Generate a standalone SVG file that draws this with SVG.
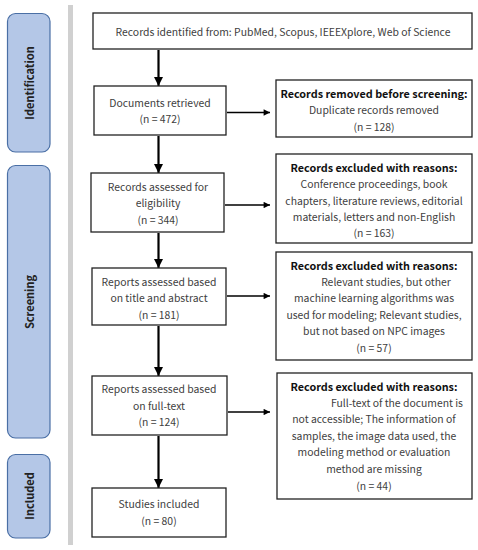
<svg xmlns="http://www.w3.org/2000/svg" width="478" height="550" viewBox="0 0 478 550">
<style>
.phase{fill:#B4C7E7;stroke:#4A6FA5;stroke-width:1.2}
.pt{font-family:"Noto Sans CJK SC","Noto Sans",sans-serif;font-size:11px;font-weight:bold;fill:#222;text-anchor:middle;dominant-baseline:central}
.box{fill:#fff;stroke:#222;stroke-width:1.3}
.t{font-family:"Noto Sans CJK SC","Noto Sans",sans-serif;font-size:10.4px;fill:#404040;text-anchor:middle;dominant-baseline:central}
.h{font-family:"Noto Sans CJK SC","Noto Sans",sans-serif;font-size:10.8px;font-weight:bold;fill:#111;text-anchor:middle;dominant-baseline:central}
.v{stroke:#000;stroke-width:2.2;fill:none}
.hz{stroke:#000;stroke-width:1.6;fill:none}
</style>
<defs>
<marker id="ah" viewBox="0 0 10 10" refX="10" refY="5" markerWidth="4.2" markerHeight="4.2" markerUnits="strokeWidth" orient="auto"><path d="M0,0 L10,5 L0,10 z" fill="#000"/></marker>
<marker id="ah2" viewBox="0 0 10 10" refX="10" refY="5" markerWidth="4.5" markerHeight="4" markerUnits="strokeWidth" orient="auto"><path d="M0,0 L10,5 L0,10 z" fill="#000"/></marker>
</defs>
<rect x="68" y="5" width="5" height="540" fill="#D0D0D0"/>
<g id="phase-identification"><rect class="phase" x="7.5" y="13.5" width="42.5" height="138.5" rx="8"/><text class="pt" transform="translate(29,83) rotate(-90)">Identification</text></g>
<g id="phase-screening"><rect class="phase" x="7.5" y="165.5" width="42.5" height="272.5" rx="8"/><text class="pt" transform="translate(29,302) rotate(-90)">Screening</text></g>
<g id="phase-included"><rect class="phase" x="7.5" y="454.5" width="42.5" height="83.5" rx="8"/><text class="pt" transform="translate(29,496) rotate(-90)">Included</text></g>
<g id="connectors">
<line class="v" x1="158.5" y1="50" x2="158.5" y2="86" marker-end="url(#ah)"/>
<line class="v" x1="158.5" y1="136" x2="158.5" y2="173" marker-end="url(#ah)"/>
<line class="v" x1="158.5" y1="233" x2="158.5" y2="268" marker-end="url(#ah)"/>
<line class="v" x1="158.5" y1="326" x2="158.5" y2="376" marker-end="url(#ah)"/>
<line class="v" x1="158.5" y1="436" x2="158.5" y2="488" marker-end="url(#ah)"/>
<line class="hz" x1="227" y1="112.5" x2="270" y2="112.5" marker-end="url(#ah2)"/>
<line class="hz" x1="225" y1="205" x2="270" y2="205" marker-end="url(#ah2)"/>
<line class="hz" x1="227" y1="296" x2="270" y2="296" marker-end="url(#ah2)"/>
<line class="hz" x1="228" y1="412" x2="270" y2="412" marker-end="url(#ah2)"/>
</g>
<g id="n-identified"><rect class="box" x="93" y="13" width="379" height="36"/><text class="t" x="283" y="31">Records identified from: PubMed, Scopus, IEEEXplore, Web of Science</text></g>
<g id="n-retrieved"><rect class="box" x="94" y="86" width="132" height="49"/><text class="t" x="160" y="102">Documents retrieved</text><text class="t" x="160" y="118.5">(n = 472)</text></g>
<g id="n-removed"><rect class="box" x="276" y="80" width="196" height="57"/><text class="h" x="374" y="93">Records removed before screening:</text><text class="t" x="374" y="109.5">Duplicate records removed</text><text class="t" x="374" y="126">(n = 128)</text></g>
<g id="n-eligibility"><rect class="box" x="91" y="173" width="133" height="59"/><text class="t" x="158" y="186">Records assessed for</text><text class="t" x="158" y="202.5">eligibility</text><text class="t" x="158" y="219">(n = 344)</text></g>
<g id="n-excl1"><rect class="box" x="276" y="154" width="196" height="89"/><text class="h" x="374" y="167">Records excluded with reasons:</text><text class="t" x="374" y="183.5">Conference proceedings, book</text><text class="t" x="374" y="200">chapters, literature reviews, editorial</text><text class="t" x="374" y="216">materials, letters and non-English</text><text class="t" x="374" y="232.5">(n = 163)</text></g>
<g id="n-title"><rect class="box" x="92" y="268" width="134" height="57"/><text class="t" x="159" y="281">Reports assessed based</text><text class="t" x="159" y="297.5">on title and abstract</text><text class="t" x="159" y="314">(n = 181)</text></g>
<g id="n-excl2"><rect class="box" x="276" y="252" width="196" height="108"/><text class="h" x="374" y="264.5">Records excluded with reasons:</text><text class="t" x="386" y="281">Relevant studies, but other</text><text class="t" x="374" y="297.5">machine learning algorithms was</text><text class="t" x="374" y="314">used for modeling; Relevant studies,</text><text class="t" x="374" y="330.5">but not based on NPC images</text><text class="t" x="374" y="347">(n = 57)</text></g>
<g id="n-fulltext"><rect class="box" x="92" y="376" width="135" height="59"/><text class="t" x="159" y="388.5">Reports assessed based</text><text class="t" x="159" y="405">on full-text</text><text class="t" x="159" y="421.5">(n = 124)</text></g>
<g id="n-excl3"><rect class="box" x="277" y="373" width="195" height="126"/><text class="h" x="374" y="385.5">Records excluded with reasons:</text><text class="t" x="397" y="402">Full-text of the document is</text><text class="t" x="374" y="418.5">not accessible; The information of</text><text class="t" x="374" y="435">samples, the image data used, the</text><text class="t" x="374" y="451.5">modeling method or evaluation</text><text class="t" x="374" y="468">method are missing</text><text class="t" x="374" y="485">(n = 44)</text></g>
<g id="n-included"><rect class="box" x="92" y="488" width="134" height="49"/><text class="t" x="159" y="503.5">Studies included</text><text class="t" x="159" y="520.5">(n = 80)</text></g>
</svg>
